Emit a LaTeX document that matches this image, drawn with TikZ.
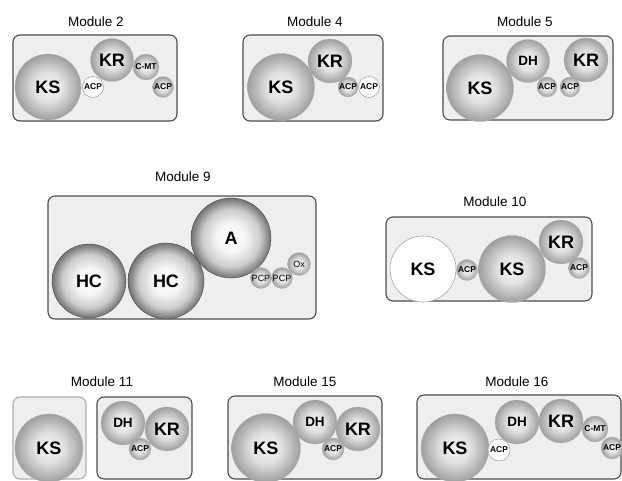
\documentclass[tikz,border=0pt]{standalone}
\usepackage{fontspec}
\setmainfont{Liberation Sans}
\usetikzlibrary{shapes.geometric}

% colours of the domain spheres and of the module frames
\definecolor{sphhi}{gray}{0.96}
\definecolor{sphmid}{gray}{0.88}
\definecolor{sphlo}{gray}{0.62}
\definecolor{darkhi}{gray}{1.0}
\definecolor{darkmid}{gray}{0.96}
\definecolor{darkring}{gray}{0.80}
\definecolor{darklo}{gray}{0.45}
\definecolor{framefill}{gray}{0.935}
\definecolor{frameline}{gray}{0.30}
\definecolor{framelight}{gray}{0.68}

\pgfdeclareradialshading{sphere}{\pgfpoint{0bp}{0bp}}{%
  color(0bp)=(sphhi); color(11bp)=(sphmid); color(25bp)=(sphlo); color(50bp)=(sphlo)}
\pgfdeclareradialshading{darksphere}{\pgfpoint{0bp}{0bp}}{%
  color(0bp)=(darkhi); color(9bp)=(darkmid); color(18bp)=(darkring);
  color(25bp)=(darklo); color(50bp)=(darklo)}

\tikzset{
  modbox/.style={draw=frameline, line width=1.1pt, fill=framefill,
    rounded corners=7pt, inner sep=0pt},
  modboxlight/.style={modbox, draw=framelight},
  title/.style={font=\fontsize{13.5}{15}\selectfont, inner sep=0pt},
  dom/.style={circle, inner sep=0pt, shading=sphere, draw=gray!60, line width=0.3pt,
    minimum size=#1},
  darkdom/.style={dom=#1, shading=darksphere, draw=gray!45!black},
  whitedom/.style={circle, inner sep=0pt, fill=white, draw=gray!70, line width=0.6pt,
    minimum size=#1},
  big/.style={font=\fontsize{18}{20}\selectfont\bfseries},
  mid/.style={font=\fontsize{13.5}{15}\selectfont\bfseries},
  small/.style={font=\fontsize{8.5}{10}\selectfont\bfseries},
  smallreg/.style={font=\fontsize{9}{10}\selectfont},
}

\begin{document}
\begin{tikzpicture}[x=1pt, y=-1pt]
\useasboundingbox (0,0) rectangle (622,480);

% ---------------- Module 2
\node[title] (t2) at (96,22) {Module 2};
\node[modbox, minimum width=164pt, minimum height=86pt] (m2) at (95,78) {};
\node[dom=66pt, big] (m2ks) at (48,87) {KS};
\node[whitedom=21pt, small] (m2acp1) at (93,87) {ACP};
\node[dom=43pt, big] (m2kr) at (112,60) {KR};
\node[dom=26pt, small] (m2cmt) at (146,67) {C-MT};
\node[dom=21pt, small] (m2acp2) at (163,87) {ACP};

% ---------------- Module 4
\node[title] (t4) at (315,22) {Module 4};
\node[modbox, minimum width=140pt, minimum height=86pt] (m4) at (313,78) {};
\node[dom=67pt, big] (m4ks) at (281,87) {KS};
\node[dom=44pt, big] (m4kr) at (330,61) {KR};
\node[dom=20pt, small] (m4acp1) at (348,87) {ACP};
\node[whitedom=21pt, small] (m4acp2) at (369,87) {ACP};

% ---------------- Module 5
\node[title] (t5) at (525,22) {Module 5};
\node[modbox, minimum width=170pt, minimum height=84pt] (m5) at (528,78) {};
\node[dom=67pt, big] (m5ks) at (480,88) {KS};
\node[dom=43pt, mid] (m5dh) at (528,61) {DH};
\node[dom=20pt, small] (m5acp1) at (547,87) {ACP};
\node[dom=20pt, small] (m5acp2) at (570,87) {ACP};
\node[dom=44pt, big] (m5kr) at (586,60) {KR};

% ---------------- Module 9
\node[title] (t9) at (183,177) {Module 9};
\node[modbox, minimum width=268pt, minimum height=123pt] (m9) at (182,257.5) {};
\node[darkdom=74pt, big] (m9hc1) at (89,281) {HC};
\node[darkdom=76pt, big] (m9hc2) at (166,281) {HC};
\node[darkdom=80pt, big] (m9a) at (231,238) {A};
\node[dom=21pt, smallreg] (m9pcp1) at (261,278) {PCP};
\node[dom=21pt, smallreg] (m9pcp2) at (282,278) {PCP};
\node[dom=23pt, smallreg] (m9ox) at (299,264) {Ox};

% ---------------- Module 10
\node[title] (t10) at (495,202) {Module 10};
\node[modbox, minimum width=206pt, minimum height=84pt] (m10) at (489,259) {};
\node[whitedom=66pt, big] (m10ks1) at (423,269) {KS};
\node[dom=21pt, small] (m10acp1) at (467,270) {ACP};
\node[dom=67pt, big] (m10ks2) at (512,269) {KS};
\node[dom=44pt, big] (m10kr) at (561,242) {KR};
\node[dom=21pt, small] (m10acp2) at (579,268) {ACP};

% ---------------- Module 11
\node[title] (t11) at (102,382) {Module 11};
\node[modboxlight, minimum width=73pt, minimum height=82pt] (m11a) at (49.5,438) {};
\node[modbox, minimum width=95pt, minimum height=82pt] (m11b) at (144.5,438) {};
\node[dom=68pt, big] (m11ks) at (49,448) {KS};
\node[dom=44pt, mid] (m11dh) at (123,423) {DH};
\node[dom=44pt, big] (m11kr) at (167,429) {KR};
\node[dom=22pt, small] (m11acp) at (140,449) {ACP};

% ---------------- Module 15
\node[title] (t15) at (305,382) {Module 15};
\node[modbox, minimum width=154pt, minimum height=83pt] (m15) at (305,437.5) {};
\node[dom=69pt, big] (m15ks) at (266,448) {KS};
\node[dom=44pt, mid] (m15dh) at (315,422) {DH};
\node[dom=44pt, big] (m15kr) at (358,429) {KR};
\node[dom=22pt, small] (m15acp) at (333,449) {ACP};

% ---------------- Module 16
\node[title] (t16) at (517,382) {Module 16};
\node[modbox, minimum width=204pt, minimum height=84pt] (m16) at (519,437) {};
\node[dom=68pt, big] (m16ks) at (455,448) {KS};
\node[whitedom=22pt, small] (m16acp1) at (499,450) {ACP};
\node[dom=44pt, mid] (m16dh) at (517,422) {DH};
\node[dom=44pt, big] (m16kr) at (561,421) {KR};
\node[dom=26pt, small] (m16cmt) at (595,429) {C-MT};
\node[dom=22pt, small] (m16acp2) at (612,448) {ACP};
\end{tikzpicture}
\end{document}
